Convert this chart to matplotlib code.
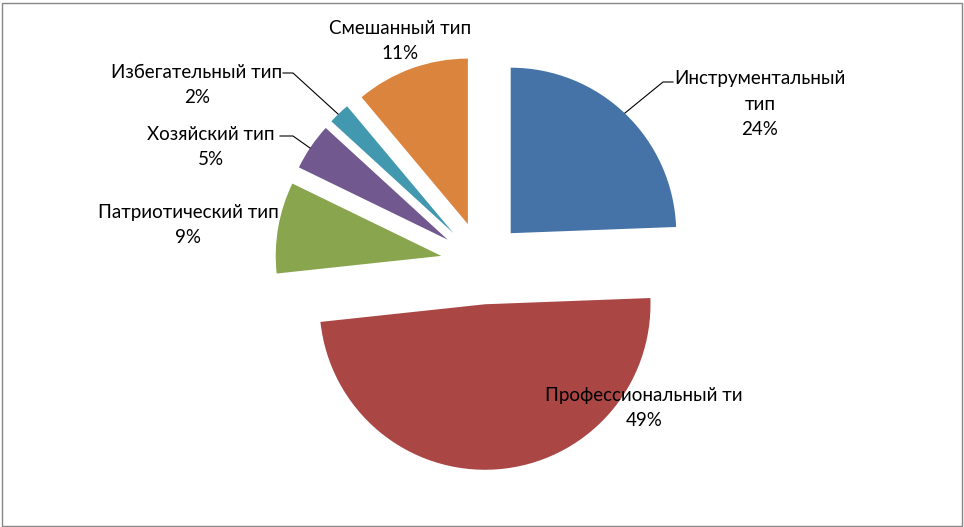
import matplotlib
matplotlib.use("Agg")
import matplotlib.pyplot as plt
from matplotlib.patches import Rectangle

plt.rcParams['font.family'] = ['Lato', 'DejaVu Sans']

categories = ["Инструментальный тип", "Профессиональный тип", "Патриотический тип",
              "Хозяйский тип", "Избегательный тип", "Смешанный тип"]
values = [24.4, 48.9, 8.9, 4.6, 2.1, 11.1]
pct_labels = ["24%", "49%", "9%", "5%", "2%", "11%"]
label_texts = ["Инструментальный\nтип\n24%", "Профессиональный ти\n49%", "Патриотический тип\n9%",
               "Хозяйский тип\n5%", "Избегательный тип\n2%", "Смешанный тип\n11%"]
colors = ["#4572A7", "#AA4643", "#89A54E", "#71588F", "#4198AF", "#DB843D"]

W, H = 964, 527
R = 165.5
CX, CY = 482, 263   # pixel centre (y from top)

fig = plt.figure(figsize=(W / 100, H / 100), dpi=100)
ax = fig.add_axes([0, 0, 1, 1])

def px(x, y):
    return (x - CX) / R, (CY - y) / R

ax.pie(values, colors=colors, startangle=90, counterclock=False,
       explode=[0.25] * len(values), radius=1.0,
       wedgeprops=dict(linewidth=0))
ax.set_xlim(-CX / R, (W - CX) / R)
ax.set_ylim(-(H - CY) / R, CY / R)
ax.set_aspect('equal')
ax.axis('off')

# label positions (pixel centres) and leader lines
label_pos = [(760, 104), (644, 408), (188, 225), (211, 147), (197, 85), (400, 41)]
for txt, (x, y) in zip(label_texts, label_pos):
    tx, ty = px(x, y)
    ax.text(tx, ty, txt, ha='center', va='center', fontsize=13.5,
            color='black', linespacing=1.62)

leaders = [
    [(625, 113), (663, 82), (673, 82)],
    [(338, 114), (293, 73), (283, 73)],
    [(310, 148), (293, 136), (280, 136)],
]
for pts in leaders:
    xs, ys = zip(*[px(a, b) for a, b in pts])
    ax.plot(xs, ys, color='black', linewidth=0.8)

fig.add_artist(Rectangle((1.5 / W, 1.5 / H), (W - 4) / W, (H - 4) / H,
                         transform=fig.transFigure, fill=False,
                         edgecolor='#868686', linewidth=1.0))

fig.savefig("out.png", dpi=100)
